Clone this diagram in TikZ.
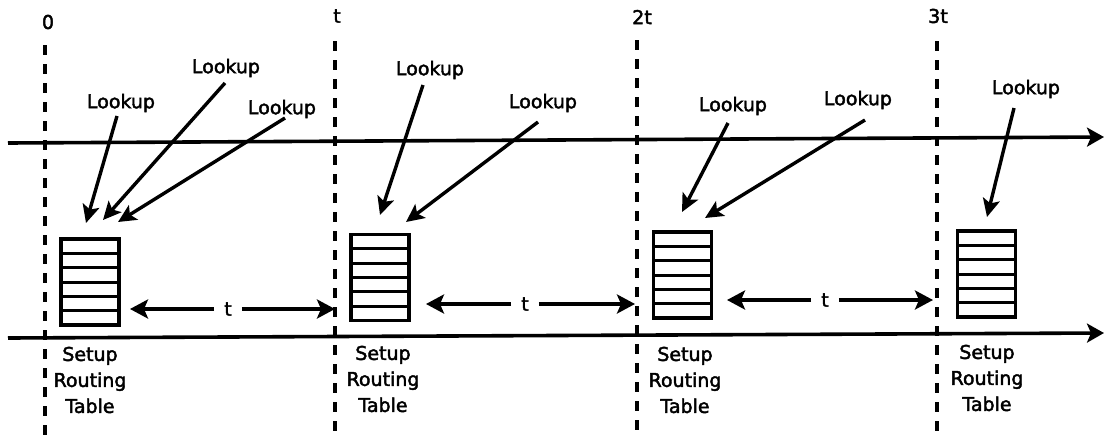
\documentclass[tikz,border=0pt]{standalone}
\usepackage{fontspec}
\setmainfont{DejaVu Sans}[FakeBold=2.2]
\usetikzlibrary{arrows.meta,calc}
\begin{document}
\begin{tikzpicture}[x=1pt,y=-1pt,
  font=\fontsize{19}{26}\selectfont,
  every node/.style={inner sep=0pt},
  timeline/.style={line width=3.8pt, dash pattern=on 10pt off 9pt},
  axis/.style={line width=3.6pt, -{Stealth[length=17pt,width=19pt,inset=4pt]}},
  lookarrow/.style={line width=3.4pt, -{Stealth[length=18pt,width=17pt,inset=4pt]}},
  span/.style={line width=3.4pt, -{Stealth[length=18pt,width=19pt,inset=4pt]}},
  rtable/.style={draw, line width=3.8pt, outer sep=0pt, minimum width=58pt, minimum height=86pt},
  row/.style={line width=3pt},
  gap/.style={inner xsep=10pt},
  caption/.style={align=center}]
\useasboundingbox (0,0) rectangle (1104,437);

% time axes
\coordinate (up0) at (8,143);   \coordinate (up1) at (1104,137);
\coordinate (lo0) at (8,338);   \coordinate (lo1) at (1104,333);
\draw[axis] (up0) -- (up1);
\draw[axis] (lo0) -- (lo1);

% time markers
\foreach \n/\lab/\lx/\ly/\vx/\vy in {0/0/48/22/45/45, 1/t/337/16/335/41, 2/2t/642/17/637/40, 3/3t/938/16/937/41} {
  \node (mk\n) at (\lx,\ly) {\lab};
  \coordinate (mtop\n) at (\vx,\vy);
  \coordinate (mbot\n) at (\vx,437);
  \draw[timeline] (mtop\n) -- (mbot\n);
}

% routing tables
\foreach \n/\cx/\cy/\sx/\sy in {1/90/282/90/380, 2/380/277.5/383/379, 3/682.5/275/685/380, 4/986.5/274/987/378} {
  \node[rtable] (tab\n) at (\cx,\cy) {};
  \foreach \k in {1,...,5}
    \draw[row] ($(tab\n.north west)!\k/6!(tab\n.south west)$) -- ($(tab\n.north east)!\k/6!(tab\n.south east)$);
  \node[caption] (cap\n) at (\sx,\sy) {Setup\\Routing\\Table};
}

% lookups
\foreach \n/\lx/\ly/\dx/\dy/\tx/\ty in {
  1/121/103/-4/13/86/223,
  2/226/68/-1/15/103/220,
  3/282/109/3/9/118/222,
  4/430/70/-7/15/380/215,
  5/543/103/-5/19/406/222,
  6/733/106/-5/17/682/212,
  7/858/100/7/20/705/218,
  8/1026/89/-12/19/987/217} {
  \node (lk\n) at (\lx,\ly) {Lookup};
  \coordinate (hit\n) at (\tx,\ty);
  \draw[lookarrow] ([shift={(\dx,\dy)}]lk\n.center) -- (hit\n);
}

% intervals between table setups
\foreach \n/\cx/\cy/\l/\r in {1/228/309/130/335, 2/525/304/426/635, 3/825/300/727/933} {
  \node[gap] (iv\n) at (\cx,\cy) {t};
  \coordinate (ivl\n) at (\l,\cy);
  \coordinate (ivr\n) at (\r,\cy);
  \draw[span] (iv\n) -- (ivl\n);
  \draw[span] (iv\n) -- (ivr\n);
}
\end{tikzpicture}
\end{document}
